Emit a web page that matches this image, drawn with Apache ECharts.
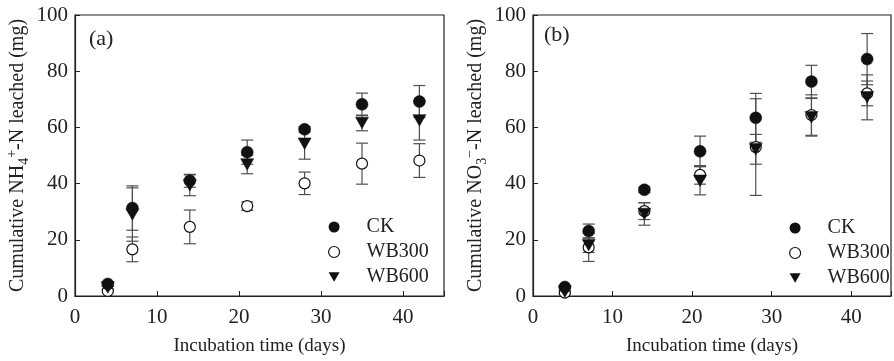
<!DOCTYPE html>
<html>
<head>
<meta charset="utf-8">
<script src="https://cdn.jsdelivr.net/npm/echarts@6/dist/echarts.min.js"></script>
<style>
html,body{margin:0;padding:0;background:#fff;}
#chart{width:894px;height:361px;}
</style>
</head>
<body>
<div id="chart"></div>
<script>
var days = [4, 7, 14, 21, 28, 35, 42];
var xTicks = [0, 10, 20, 30, 40];
var yTicks = [0, 20, 40, 60, 80, 100];

var nh4CK = [4.3, 31.3, 41.0, 51.2, 59.3, 68.2, 69.2];
var nh4CKErr = [0.8, 7.9, 2.3, 4.3, 1.0, 4.0, 5.7];
var nh4WB300 = [1.8, 16.6, 24.6, 32.0, 40.1, 47.1, 48.2];
var nh4WB300Err = [0.5, 4.4, 6.0, 1.5, 4.0, 7.3, 6.0];
var nh4WB600 = [3.0, 29.0, 39.4, 46.8, 54.2, 61.6, 62.5];
var nh4WB600Err = [0.5, 9.5, 3.7, 3.3, 5.5, 2.8, 7.0];

var no3CK = [3.2, 23.1, 37.8, 51.5, 63.4, 76.3, 84.3];
var no3CKErr = [0.5, 2.5, 1.0, 5.4, 8.7, 5.8, 9.1];
var no3WB300 = [1.2, 17.3, 30.2, 43.1, 53.0, 64.4, 72.1];
var no3WB300Err = [0.5, 5.0, 3.0, 3.3, 17.2, 7.2, 4.4];
var no3WB600 = [1.5, 18.1, 29.2, 41.0, 52.2, 63.6, 70.7];
var no3WB600Err = [0.5, 2.6, 4.0, 5.0, 5.3, 6.7, 8.0];

var seriesNames = ['CK', 'WB300', 'WB600'];

var FONT = '"Liberation Serif", "Times New Roman", serif';
var TRI = 'path://M0,0L12,0L6,10.5Z';

function pairs(vals) { return days.map(function (d, i) { return [d, vals[i]]; }); }
function errData(vals, errs) { return days.map(function (d, i) { return [d, vals[i], errs[i]]; }); }

function errSeries(idx, vals, errs) {
  return {
    type: 'custom', xAxisIndex: idx, yAxisIndex: idx, z: 1, silent: true,
    data: errData(vals, errs),
    renderItem: function (params, api) {
      var x = api.value(0), y = api.value(1), e = api.value(2);
      var top = api.coord([x, y + e]);
      var bot = api.coord([x, y - e]);
      var hw = 6;
      var st = { stroke: '#505050', lineWidth: 1.2 };
      return {
        type: 'group',
        children: [
          { type: 'line', shape: { x1: top[0], y1: top[1], x2: bot[0], y2: bot[1] }, style: st },
          { type: 'line', shape: { x1: top[0] - hw, y1: top[1], x2: top[0] + hw, y2: top[1] }, style: st },
          { type: 'line', shape: { x1: bot[0] - hw, y1: bot[1], x2: bot[0] + hw, y2: bot[1] }, style: st }
        ]
      };
    }
  };
}

function markSeries(idx, name, vals) {
  var s = { type: 'scatter', name: name, xAxisIndex: idx, yAxisIndex: idx, data: pairs(vals) };
  if (name === 'CK') {
    s.symbol = 'circle'; s.symbolSize = 12; s.z = 4;
    s.itemStyle = { color: '#111', borderColor: '#111', borderWidth: 0.5, opacity: 1 };
  } else if (name === 'WB300') {
    s.symbol = 'circle'; s.symbolSize = 11; s.z = 2;
    s.itemStyle = { color: '#fff', borderColor: '#111', borderWidth: 1.2, opacity: 1 };
  } else {
    s.symbol = TRI; s.symbolSize = [13, 11.5]; s.z = 3;
    s.itemStyle = { color: '#111', borderColor: '#111', borderWidth: 0.5, opacity: 1 };
  }
  return s;
}

function xAx(idx) {
  return {
    gridIndex: idx, type: 'value', min: 0, max: 45, interval: 10,
    axisLine: { show: true, lineStyle: { color: '#222', width: 1.2 } },
    axisTick: { show: true, inside: true, length: 5, lineStyle: { color: '#222' } },
    axisLabel: { show: true, margin: 11, fontFamily: FONT, fontSize: 21, color: '#222',
      formatter: function (v) { return xTicks.indexOf(v) >= 0 ? String(v) : ''; } },
    splitLine: { show: false },
    name: 'Incubation time (days)', nameLocation: 'middle', nameGap: 41,
    nameTextStyle: { fontFamily: FONT, fontSize: 19, color: '#222' }
  };
}

function yAx(idx, nameRich) {
  return {
    gridIndex: idx, type: 'value', min: 0, max: 100, interval: 20,
    axisLine: { show: true, lineStyle: { color: '#222', width: 1.2 } },
    axisTick: { show: true, inside: true, length: 5, lineStyle: { color: '#222' } },
    axisLabel: { show: true, margin: 7, fontFamily: FONT, fontSize: 21, color: '#222',
      formatter: function (v) { return yTicks.indexOf(v) >= 0 ? String(v) : ''; } },
    splitLine: { show: false },
    name: nameRich, nameLocation: 'middle', nameGap: 44,
    nameTextStyle: {
      fontFamily: FONT, fontSize: 20, color: '#222',
      rich: {
        a: { fontFamily: FONT, fontSize: 20, color: '#222', lineHeight: 26 },
        sub: { fontFamily: FONT, fontSize: 14, color: '#222', verticalAlign: 'bottom', lineHeight: 14 },
        sup: { fontFamily: FONT, fontSize: 14, color: '#222', verticalAlign: 'top', lineHeight: 14 }
      }
    }
  };
}

function legend(left, top) {
  return {
    orient: 'vertical', left: left, top: top, padding: 0,
    itemWidth: 11, itemHeight: 11, itemGap: 5,
    selectedMode: false,
    formatter: function (n) { return '{g|}{t|' + n + '}'; },
    textStyle: {
      fontFamily: FONT, fontSize: 20, color: '#222', lineHeight: 20,
      rich: {
        g: { width: 22 },
        t: { fontFamily: FONT, fontSize: 20, color: '#222', lineHeight: 20 }
      }
    },
    data: [
      { name: 'CK', icon: 'circle', itemStyle: { color: '#111', borderWidth: 0 } },
      { name: 'WB300', icon: 'circle', itemStyle: { color: '#fff', borderColor: '#111', borderWidth: 1.2 } },
      { name: 'WB600', icon: TRI, itemStyle: { color: '#111', borderWidth: 0 } }
    ]
  };
}

var chart = echarts.init(document.getElementById('chart'), null, { renderer: 'canvas' });
chart.setOption({
  backgroundColor: '#fff',
  animation: false,
  grid: [
    { left: 75, top: 15, width: 369, height: 285, show: true, borderColor: '#222', borderWidth: 1.2, backgroundColor: 'transparent' },
    { left: 533, top: 15, width: 367, height: 284, show: true, borderColor: '#222', borderWidth: 1.2, backgroundColor: 'transparent' }
  ],
  xAxis: [xAx(0), xAx(1)],
  yAxis: [
    yAx(0, '{a|Cumulative NH}{sub|4}{sup|+}{a|-N leached (mg)}'),
    yAx(1, '{a|Cumulative NO}{sub|3}{sup|−}{a|-N leached (mg)}')
  ],
  legend: [legend(328, 217), legend(789, 218)],
  graphic: [
    { type: 'text', left: 89, top: 28, style: { text: '(a)', fontFamily: FONT, fontSize: 22, fill: '#222' } },
    { type: 'text', left: 544, top: 24, style: { text: '(b)', fontFamily: FONT, fontSize: 22, fill: '#222' } }
  ],
  series: [
    errSeries(0, nh4WB300, nh4WB300Err),
    errSeries(0, nh4WB600, nh4WB600Err),
    errSeries(0, nh4CK, nh4CKErr),
    markSeries(0, 'WB300', nh4WB300),
    markSeries(0, 'WB600', nh4WB600),
    markSeries(0, 'CK', nh4CK),
    errSeries(1, no3WB300, no3WB300Err),
    errSeries(1, no3WB600, no3WB600Err),
    errSeries(1, no3CK, no3CKErr),
    markSeries(1, 'WB300', no3WB300),
    markSeries(1, 'WB600', no3WB600),
    markSeries(1, 'CK', no3CK)
  ]
});
</script>
</body>
</html>
